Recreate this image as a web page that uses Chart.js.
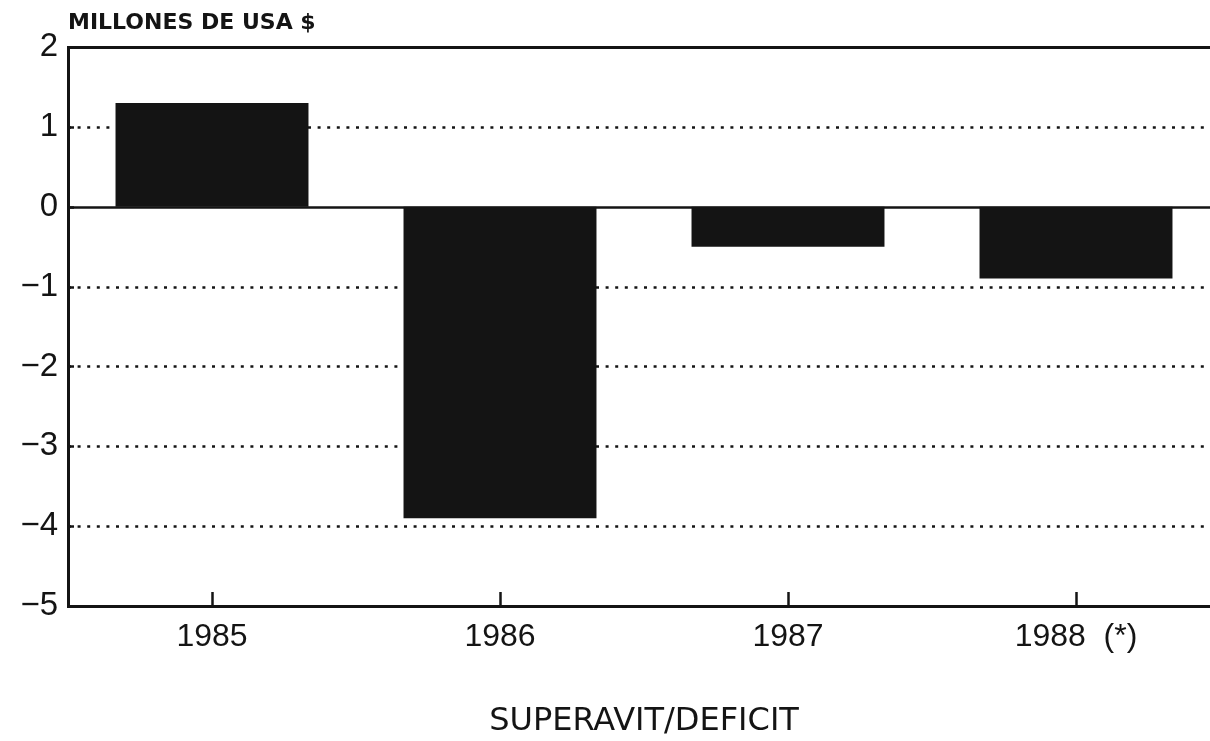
<!DOCTYPE html>
<html>
<head>
    <title>Superavit / Deficit</title>
    <script src="https://cdn.jsdelivr.net/npm/chart.js"></script>
    <style>
        html, body {
            margin: 0;
            padding: 0;
            background: white;
            overflow: hidden;
        }
        .chart-container {
            position: relative;
            width: 1220px;
            height: 741px;
        }
    </style>
</head>
<body>
    <div class="chart-container">
        <canvas id="myChart"></canvas>
    </div>
    <script>
        // data
        const years = ['1985', '1986', '1987', '1988  (*)'];
        const balance = [1.3, -3.9, -0.5, -0.9];
        const yMin = -5;
        const yMax = 2;
        const unitLabel = 'MILLONES DE USA $';
        const xTitle = 'SUPERAVIT/DEFICIT';

        const ink = '#141414';
        const fontFamily = '"Liberation Sans", Arial, sans-serif';
        const wideFamily = '"DejaVu Sans", sans-serif';

        // grid lines, zero line, top frame, x ticks and unit label
        const framePlugin = {
            id: 'frame',
            beforeDatasetsDraw(chart) {
                const { ctx, chartArea: a, scales: { x, y } } = chart;
                ctx.save();
                ctx.strokeStyle = ink;
                y.ticks.forEach(t => {
                    const py = Math.round(y.getPixelForValue(t.value)) + 0.5;
                    if (t.value === yMin) return;
                    ctx.beginPath();
                    if (t.value === yMax) {
                        ctx.setLineDash([]);
                        ctx.lineWidth = 3;
                    } else if (t.value === 0) {
                        ctx.setLineDash([]);
                        ctx.lineWidth = 2.5;
                    } else {
                        ctx.setLineDash([3, 6.6]);
                        ctx.lineWidth = 2.5;
                    }
                    ctx.moveTo(a.left, py);
                    ctx.lineTo(a.right, py);
                    ctx.stroke();
                    // little solid stub next to the axis
                    ctx.setLineDash([]);
                    ctx.lineWidth = 2.5;
                    ctx.beginPath();
                    ctx.moveTo(a.left, py);
                    ctx.lineTo(a.left + 6, py);
                    ctx.stroke();
                });
                ctx.restore();
            },
            afterDatasetsDraw(chart) {
                const { ctx, chartArea: a, scales: { x } } = chart;
                ctx.save();
                ctx.strokeStyle = ink;
                ctx.lineWidth = 2.5;
                x.ticks.forEach((t, i) => {
                    const px = Math.round(x.getPixelForTick(i)) + 0.5;
                    ctx.beginPath();
                    ctx.moveTo(px, a.bottom);
                    ctx.lineTo(px, a.bottom - 14);
                    ctx.stroke();
                });
                ctx.fillStyle = ink;
                ctx.font = 'bold 22px ' + wideFamily;
                ctx.textBaseline = 'alphabetic';
                ctx.textAlign = 'left';
                ctx.fillText(unitLabel, a.left, a.top - 18);
                ctx.restore();
            }
        };

        const ctx = document.getElementById('myChart').getContext('2d');
        new Chart(ctx, {
            type: 'bar',
            data: {
                labels: years,
                datasets: [{
                    data: balance,
                    backgroundColor: ink,
                    borderWidth: 0,
                    barPercentage: 0.67,
                    categoryPercentage: 1
                }]
            },
            options: {
                responsive: true,
                maintainAspectRatio: false,
                animation: false,
                layout: {
                    padding: { top: 47, left: 0, right: 0, bottom: 0 }
                },
                plugins: {
                    legend: { display: false },
                    tooltip: { enabled: false }
                },
                scales: {
                    x: {
                        grid: { display: false, drawTicks: false },
                        border: { display: true, color: ink, width: 3 },
                        ticks: {
                            color: ink,
                            padding: 12,
                            maxRotation: 0,
                            font: { family: fontFamily, size: 32 }
                        },
                        title: {
                            display: true,
                            text: xTitle,
                            color: ink,
                            padding: { top: 0, bottom: 0 },
                            font: { family: wideFamily, size: 32 }
                        },
                        afterFit(scale) {
                            scale.height = 135;
                        }
                    },
                    y: {
                        min: yMin,
                        max: yMax,
                        grid: { display: false, drawTicks: false },
                        border: { display: true, color: ink, width: 3 },
                        ticks: {
                            stepSize: 1,
                            color: ink,
                            padding: 10,
                            font: { family: fontFamily, size: 33 },
                            callback: v => v < 0 ? '\u2212' + Math.abs(v) : String(v)
                        },
                        afterFit(scale) {
                            scale.width = 68;
                        }
                    }
                }
            },
            plugins: [framePlugin]
        });
    </script>
</body>
</html>
